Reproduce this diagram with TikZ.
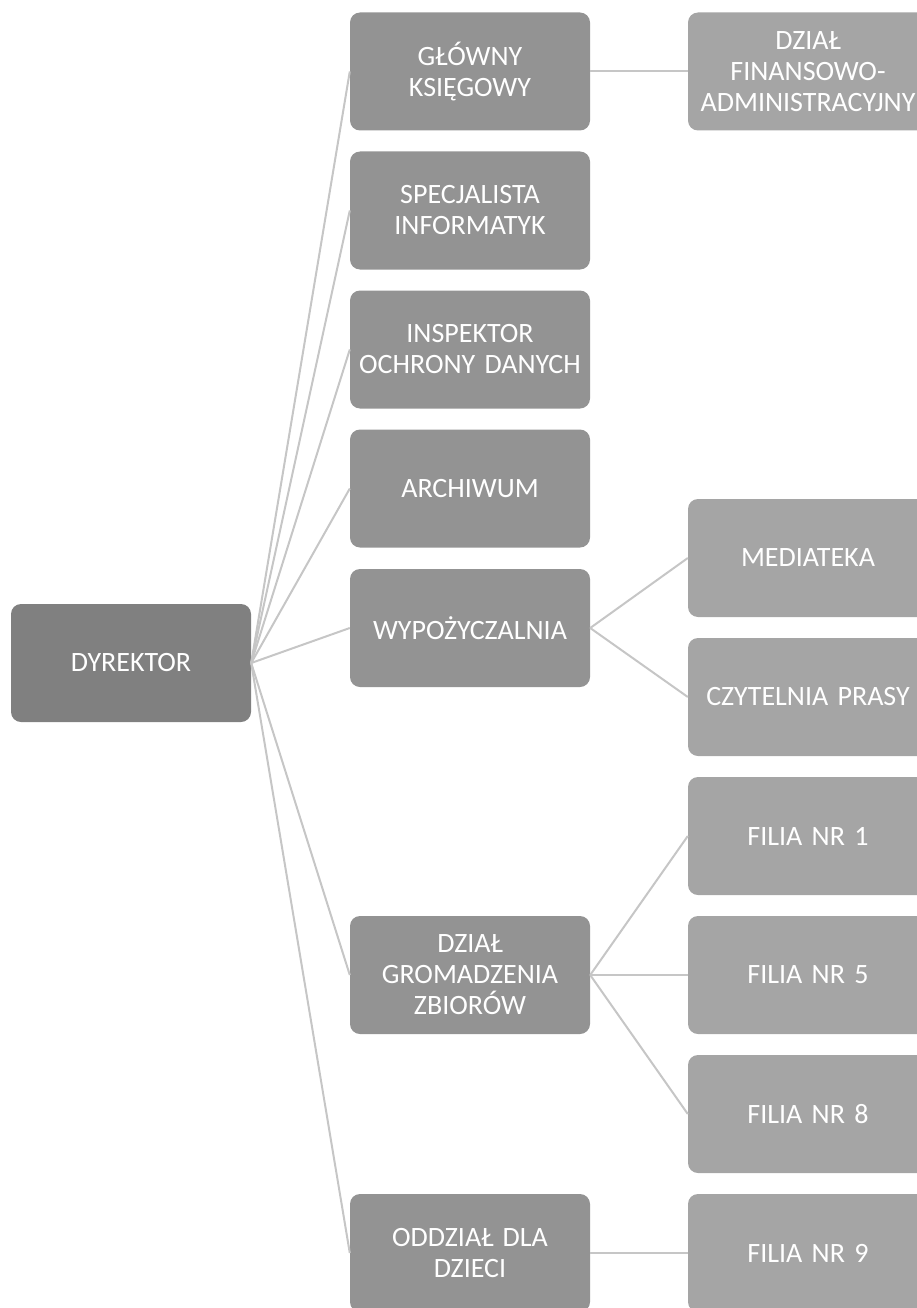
\documentclass[tikz,border=0pt]{standalone}
\usepackage{fontspec}
\setmainfont[WordSpace=0.8]{Carlito}
\definecolor{cTop}{HTML}{808080}
\definecolor{cMid}{HTML}{939393}
\definecolor{cLow}{HTML}{A5A5A5}
\definecolor{cLine}{HTML}{C6C6C6}
\begin{document}
\begin{tikzpicture}[x=1pt,y=-1pt,
  orgbox/.style={rectangle, rounded corners=10pt, minimum width=240pt, minimum height=118pt,
    text=white, align=center, text width=236pt, inner sep=0pt,
    font=\fontsize{28}{31}\selectfont},
  topbox/.style={orgbox, fill=cTop},
  midbox/.style={orgbox, fill=cMid},
  lowbox/.style={orgbox, fill=cLow},
  link/.style={draw=cLine, line width=2pt}]
\useasboundingbox (0,0) rectangle (917,1308);
\clip (0,0) rectangle (917,1308);
\node[topbox] (dyr) at (131,663) {DYREKTOR};
\node[midbox] (gk) at (470,71.5) {GŁÓWNY\\KSIĘGOWY};
\node[midbox] (si) at (470,210.5) {SPECJALISTA\\INFORMATYK};
\node[midbox] (iod) at (470,349.5) {INSPEKTOR\\OCHRONY DANYCH};
\node[midbox] (arch) at (470,488.5) {ARCHIWUM};
\node[midbox] (wyp) at (470,628) {WYPOŻYCZALNIA};
\node[midbox] (dgz) at (470,975) {DZIAŁ\\GROMADZENIA\\ZBIORÓW};
\node[midbox] (odd) at (470,1253) {ODDZIAŁ DLA\\DZIECI};
\node[lowbox] (dfa) at (808,71.5) {DZIAŁ\\FINANSOWO-\\ADMINISTRACYJNY};
\node[lowbox] (med) at (808,558) {MEDIATEKA};
\node[lowbox] (czp) at (808,697) {CZYTELNIA PRASY};
\node[lowbox] (f1) at (808,836) {FILIA NR 1};
\node[lowbox] (f5) at (808,975) {FILIA NR 5};
\node[lowbox] (f8) at (808,1114) {FILIA NR 8};
\node[lowbox] (f9) at (808,1253) {FILIA NR 9};
\foreach \n in {gk,si,iod,arch,wyp,dgz,odd}
  \draw[link] (dyr.east) -- (\n.west);
\draw[link] (gk.east) -- (dfa.west);
\draw[link] (wyp.east) -- (med.west);
\draw[link] (wyp.east) -- (czp.west);
\draw[link] (dgz.east) -- (f1.west);
\draw[link] (dgz.east) -- (f5.west);
\draw[link] (dgz.east) -- (f8.west);
\draw[link] (odd.east) -- (f9.west);
\end{tikzpicture}
\end{document}
